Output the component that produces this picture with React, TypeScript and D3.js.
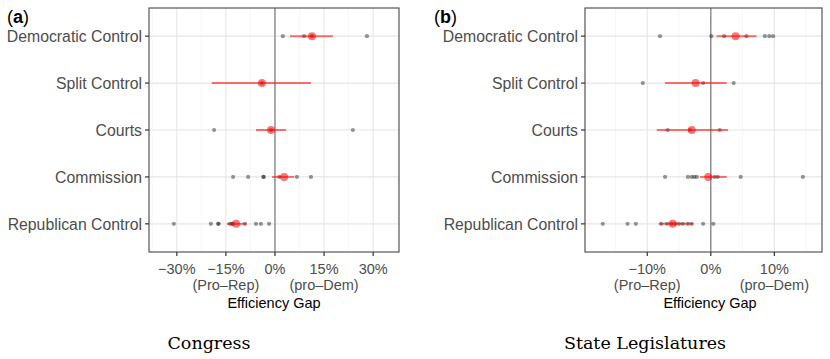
import React from 'react';
import * as d3 from 'd3';

const categories = ['Democratic Control', 'Split Control', 'Courts', 'Commission', 'Republican Control'];

// Congress: individual state efficiency gaps (%), mean and interval per category
const congressPoints: number[][] = [
  [2.4, 8.9, 11.3, 28.1],
  [-4.0],
  [-18.6, -1.2, 23.8],
  [-12.8, -8.2, -3.6, -3.4, 1.3, 6.7, 11.0],
  [-30.9, -19.6, -17.4, -17.2, -13.8, -13.2, -12.8, -9.2, -5.8, -4.3, -1.8],
];
const congressMean = [11.3, -4.0, -1.2, 2.8, -11.9];
const congressLow = [4.6, -19.3, -5.8, -0.9, -14.7];
const congressHigh = [17.7, 11.0, 3.4, 5.9, -8.6];

// State legislatures
const statePoints: number[][] = [
  [-8.0, 0.1, 2.1, 5.6, 8.5, 9.2, 9.8],
  [-10.7, -1.2, 3.6],
  [-6.8, -3.3, 1.4],
  [-7.2, -3.6, -3.0, -2.6, -2.2, 0.6, 1.1, 4.7, 14.5],
  [-17.0, -13.1, -11.8, -7.8, -6.9, -6.2, -5.6, -5.0, -4.4, -3.6, -3.0, -1.2, 0.4],
];
const stateMean = [3.9, -2.4, -3.0, -0.4, -6.0];
const stateLow = [0.9, -7.2, -8.5, -1.7, -8.2];
const stateHigh = [7.2, 2.5, 2.7, 2.5, -2.8];

const congressTicks = [-30, -15, 0, 15, 30];
const congressMinor = [-37.5, -22.5, -7.5, 7.5, 22.5, 37.5];
const stateTicks = [-10, 0, 10];
const stateMinor = [-15, -5, 5, 15];

const tickSub: Record<string, string> = { '-15': '(Pro\u2013Rep)', '15': '(pro\u2013Dem)', '-10': '(Pro\u2013Rep)', '10': '(pro\u2013Dem)' };

interface PanelProps {
  tag: string;
  caption: string;
  left: number;
  right: number;
  domain: [number, number];
  ticks: number[];
  minor: number[];
  points: number[][];
  mean: number[];
  low: number[];
  high: number[];
  captionX: number;
  titleX: number;
  tagX: number;
}

const top = 8;
const bottom = 252;
const sans = 'Liberation Sans, Arial, Helvetica, sans-serif';

const Panel = (p: PanelProps) => {
  const x = d3.scaleLinear().domain(p.domain).range([p.left, p.right]);
  const y = d3.scalePoint<string>().domain(categories).range([top, bottom]).padding(0.6);
  const fmt = (v: number) => (v < 0 ? '\u2212' + Math.abs(v) : String(v)) + '%';
  const inRange = (v: number) => v >= p.domain[0] && v <= p.domain[1];

  return (
    <g>
      {/* grid */}
      {p.minor.filter(inRange).map(v => (
        <line key={'mi' + v} x1={x(v)} x2={x(v)} y1={top} y2={bottom} stroke="#f2f2f2" strokeWidth={0.6} />
      ))}
      {p.ticks.map(v => (
        <line key={'ma' + v} x1={x(v)} x2={x(v)} y1={top} y2={bottom} stroke="#e6e6e6" strokeWidth={1.1} />
      ))}
      {categories.map(c => (
        <line key={'h' + c} x1={p.left} x2={p.right} y1={y(c)} y2={y(c)} stroke="#e6e6e6" strokeWidth={1.1} />
      ))}
      <line x1={x(0)} x2={x(0)} y1={top} y2={bottom} stroke="#7a7a7a" strokeWidth={1.2} />

      {/* states */}
      {categories.map((c, i) =>
        p.points[i].map((v, j) => (
          <circle key={c + j} cx={x(v)} cy={y(c)} r={2.1} fill="#000" fillOpacity={0.4} />
        ))
      )}
      {/* means and intervals */}
      {categories.map((c, i) => (
        <g key={'m' + c}>
          <line x1={x(p.low[i])} x2={x(p.high[i])} y1={y(c)} y2={y(c)} stroke="#ff0000" strokeOpacity={0.55} strokeWidth={2} />
          <circle cx={x(p.mean[i])} cy={y(c)} r={4} fill="#ff0000" fillOpacity={0.55} />
        </g>
      ))}

      <rect x={p.left} y={top} width={p.right - p.left} height={bottom - top} fill="none" stroke="#555" strokeWidth={1.2} />

      {/* y axis */}
      {categories.map(c => (
        <g key={'yl' + c}>
          <line x1={p.left - 4} x2={p.left} y1={y(c)} y2={y(c)} stroke="#333" strokeWidth={1.2} />
          <text x={p.left - 7} y={y(c)} dy="0.36em" textAnchor="end" fontFamily={sans} fontSize={15.8} fill="#4d4d4d">
            {c}
          </text>
        </g>
      ))}

      {/* x axis */}
      {p.ticks.map(v => (
        <g key={'xt' + v}>
          <line x1={x(v)} x2={x(v)} y1={bottom} y2={bottom + 4} stroke="#333" strokeWidth={1.2} />
          <text x={x(v)} y={274} textAnchor="middle" fontFamily={sans} fontSize={14.5} fill="#4d4d4d">
            {fmt(v)}
          </text>
          {tickSub[String(v)] && (
            <text x={x(v)} y={290} textAnchor="middle" fontFamily={sans} fontSize={14.5} fill="#4d4d4d">
              {tickSub[String(v)]}
            </text>
          )}
        </g>
      ))}
      <text x={p.titleX} y={308} textAnchor="middle" fontFamily={sans} fontSize={14.5} fill="#000">
        Efficiency Gap
      </text>

      <text x={p.tagX} y={23} fontFamily={sans} fontSize={18} fill="#000">
        (<tspan fontWeight="bold">{p.tag}</tspan>)
      </text>

      <text x={p.captionX} y={349} textAnchor="middle" fontFamily="DejaVu Serif, Liberation Serif, serif" fontSize={17.5} fill="#000">
        {p.caption}
      </text>
    </g>
  );
};

export default function App() {
  return (
    <svg width={830} height={359} style={{ position: 'absolute', left: 0, top: 0, background: '#fff' }}>
      <Panel
        tag="a"
        caption="Congress"
        left={149}
        right={399}
        domain={[-38.5, 37.9]}
        ticks={congressTicks}
        minor={congressMinor}
        points={congressPoints}
        mean={congressMean}
        low={congressLow}
        high={congressHigh}
        captionX={209}
        titleX={274}
        tagX={7}
      />
      <Panel
        tag="b"
        caption="State Legislatures"
        left={585}
        right={822}
        domain={[-19.8, 17.5]}
        ticks={stateTicks}
        minor={stateMinor}
        points={statePoints}
        mean={stateMean}
        low={stateLow}
        high={stateHigh}
        captionX={645}
        titleX={710}
        tagX={434}
      />
    </svg>
  );
}
